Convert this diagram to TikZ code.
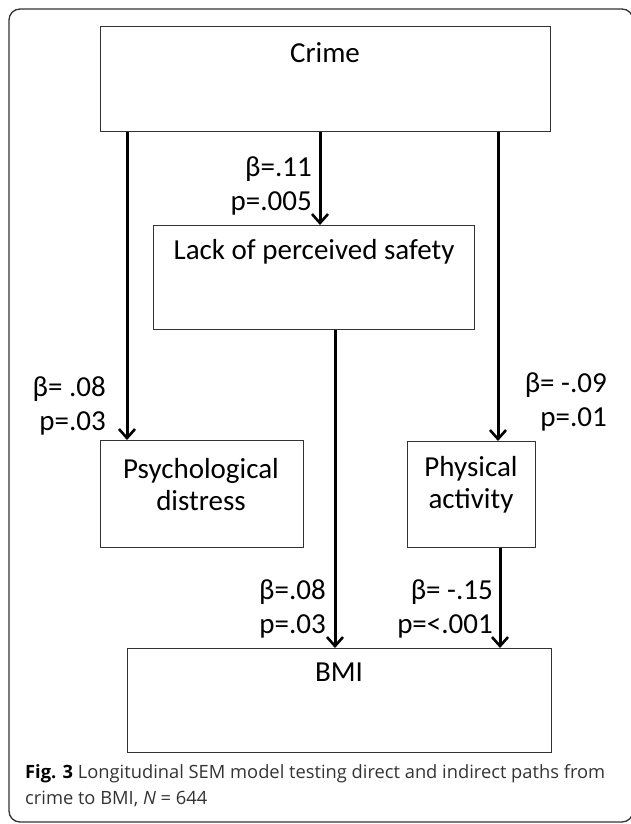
\documentclass[tikz,border=0pt]{standalone}
\usepackage{fontspec}
\setmainfont{Carlito}
\newfontfamily\capfont{Open Sans}
\usetikzlibrary{arrows.meta}

\tikzset{
  box/.style={draw=black!80, line width=1pt, inner sep=0pt, anchor=north west},
  boxtext/.style={inner sep=0pt, align=center, font=\fontsize{29}{32}\selectfont},
  coef/.style={inner sep=0pt, align=right, anchor=east, font=\fontsize{29}{34}\selectfont},
  path/.style={line width=3pt, -{Straight Barb[length=9pt,width=16pt,line width=2.6pt]}},
  captext/.style={inner sep=0pt, anchor=base west, font=\capfont\fontsize{18.3}{26}\selectfont, black!80},
}

\begin{document}
\begin{tikzpicture}[x=1pt,y=-1pt]
\useasboundingbox (0,0) rectangle (630,824);
\draw[rounded corners=11pt, line width=1.3pt, black!80] (9,9) rectangle (633,822);

% variables
\node[box, minimum width=450, minimum height=105] (crime) at (100,26) {};
\node[box, minimum width=321, minimum height=104] (safety) at (153,225) {};
\node[box, minimum width=203, minimum height=107] (distress) at (100,440) {};
\node[box, minimum width=128, minimum height=106] (activity) at (407,441) {};
\node[box, minimum width=424, minimum height=104] (bmi) at (127,648) {};

\node[boxtext] (crimet) at (325,53) {Crime};
\node[boxtext] (safetyt) at (314,252) {Lack of perceived safety};
\node[boxtext] (distresst) at (201,485) {Psychological\\distress};
\node[boxtext] (activityt) at (471,485) {Physical\\activity};
\node[boxtext] (bmit) at (339,672) {BMI};

% paths
\draw[path] ([xshift=27]crime.south west) -- ([xshift=27]distress.north west);
\draw[path] ([xshift=220]crime.south west) -- ([xshift=167]safety.north west);
\draw[path] ([xshift=398]crime.south west) -- ([xshift=91]activity.north west);
\draw[path] ([xshift=182]safety.south west) -- ([xshift=208]bmi.north west);
\draw[path] ([xshift=93]activity.south west) -- ([xshift=373]bmi.north west);

% coefficients
\node[coef] (c1) at (312,186) {β=.11\\p=.005};
\node[coef] (c2) at (106,406) {β= .08\\p=.03};
\node[coef] (c3) at (607,402) {β= -.09\\p=.01};
\node[coef] (c4) at (326,609) {β=.08\\p=.03};
\node[coef] (c5) at (493,609) {β= -.15\\p=<.001};

% caption
\node[captext] (cap1) at (25,778) {\textbf{\color{black}Fig. 3} Longitudinal SEM model testing direct and indirect paths from};
\node[captext] (cap2) at (25,804) {crime to BMI, \textit{N} = 644};
\end{tikzpicture}
\end{document}
